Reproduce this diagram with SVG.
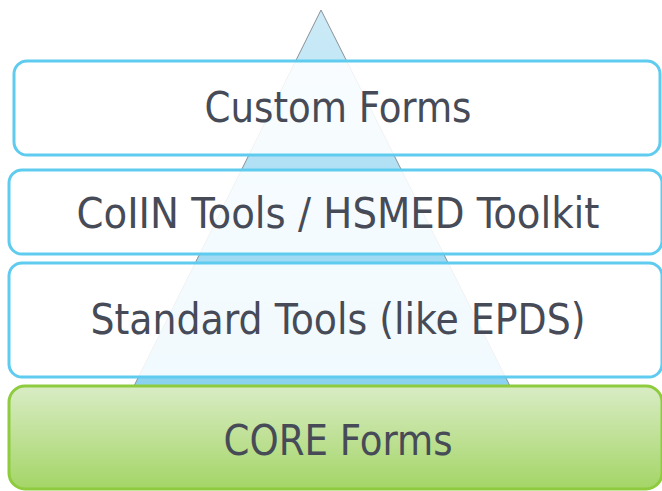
<svg xmlns="http://www.w3.org/2000/svg" width="662" height="491" viewBox="0 0 662 491">
  <defs>
    <linearGradient id="triGrad" x1="0" y1="0" x2="0" y2="1">
      <stop offset="0" stop-color="#cdebf7"/>
      <stop offset="1" stop-color="#8ad2f1"/>
    </linearGradient>
    <linearGradient id="greenGrad" x1="0" y1="0" x2="0" y2="1">
      <stop offset="0" stop-color="#d9ecc5"/>
      <stop offset="1" stop-color="#a4d566"/>
    </linearGradient>
  </defs>
  <style>
    .box { fill: #ffffff; fill-opacity: 0.88; stroke: #5ecbef; stroke-width: 3; }
    .core { fill: url(#greenGrad); stroke: #8ecb3e; stroke-width: 3; }
    .lbl { font-family: "DejaVu Sans Condensed", "DejaVu Sans", sans-serif; font-size: 43px; fill: #464b57; text-anchor: middle; }
  </style>
  <rect width="662" height="491" fill="#ffffff"/>
  <g id="pyramid">
    <polygon points="321,10 134,386 510,386" fill="url(#triGrad)" stroke="#8a9096" stroke-width="1"/>
  </g>
  <g id="custom-forms">
    <rect class="box" x="14" y="61" width="646" height="94" rx="13"/>
    <text class="lbl" x="338" y="122" textLength="267" lengthAdjust="spacingAndGlyphs">Custom Forms</text>
  </g>
  <g id="coiin-tools">
    <rect class="box" x="9" y="170" width="653" height="84" rx="13"/>
    <text class="lbl" x="338" y="228" textLength="523" lengthAdjust="spacingAndGlyphs">CoIIN Tools / HSMED Toolkit</text>
  </g>
  <g id="standard-tools">
    <rect class="box" x="9" y="263" width="653" height="114" rx="13"/>
    <text class="lbl" x="338" y="334" textLength="495" lengthAdjust="spacingAndGlyphs">Standard Tools (like EPDS)</text>
  </g>
  <g id="core-forms">
    <rect class="core" x="9" y="386" width="653" height="103" rx="16"/>
    <text class="lbl" x="338" y="455" textLength="229" lengthAdjust="spacingAndGlyphs">CORE Forms</text>
  </g>
  <g id="connectors"></g>
</svg>
